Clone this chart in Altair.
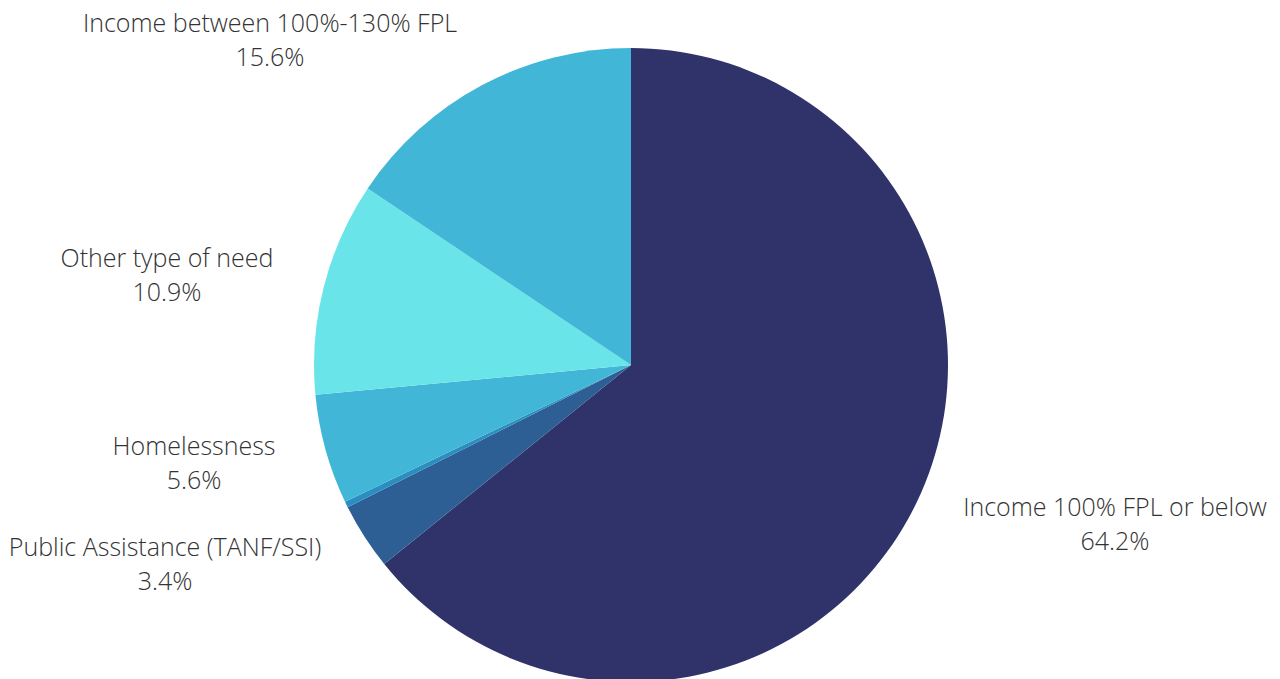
import altair as alt
import pandas as pd

# ---- data ----
categories = [
    "Income 100% FPL or below",
    "Public Assistance (TANF/SSI)",
    "Other eligibility",
    "Homelessness",
    "Other type of need",
    "Income between 100%-130% FPL",
]
shares = [64.2, 3.4, 0.3, 5.6, 10.9, 15.6]
colors = ["#303369", "#2e5f94", "#2a8fc0", "#41b6d6", "#69e5e9", "#41b6d6"]
labelled = [True, True, False, True, True, True]

df = pd.DataFrame({
    "category": categories,
    "share": shares,
    "order": list(range(len(categories))),
})

W, H = 1264, 671
CX, CY, R = 623, 357, 317

pie = alt.Chart(df).mark_arc(outerRadius=R, stroke=None).encode(
    theta=alt.Theta("share:Q", stack=True),
    order=alt.Order("order:Q"),
    color=alt.Color("category:N", scale=alt.Scale(domain=categories, range=colors), legend=None),
    x=alt.value(CX),
    y=alt.value(CY),
)

# label layout (text anchor of first line, chart pixel space)
label_pos = {
    "Income 100% FPL or below": (1107, 500),
    "Public Assistance (TANF/SSI)": (157, 540),
    "Homelessness": (186, 439),
    "Other type of need": (159, 251),
    "Income between 100%-130% FPL": (262, 16),
}
lab = pd.DataFrame({
    "category": [c for c, l in zip(categories, labelled) if l],
    "share": [s for s, l in zip(shares, labelled) if l],
})
lab["text"] = lab["category"] + "\n" + lab["share"].map(lambda v: f"{v:.1f}%")
lab["px"] = lab["category"].map(lambda c: label_pos[c][0])
lab["py"] = lab["category"].map(lambda c: label_pos[c][1])

labels = alt.Chart(lab).mark_text(
    font="Open Sans", fontWeight=300, fontSize=25, color="#333333",
    align="center", baseline="middle", lineBreak="\n", lineHeight=34,
).encode(
    x=alt.X("px:Q", scale=None),
    y=alt.Y("py:Q", scale=None),
    text="text:N",
)

chart = alt.layer(pie, labels).properties(
    width=W, height=H, padding=0, autosize=alt.AutoSizeParams(type="none")
).configure_view(stroke=None)

chart.save("out.html", embed_options={"renderer": "svg", "actions": False})
